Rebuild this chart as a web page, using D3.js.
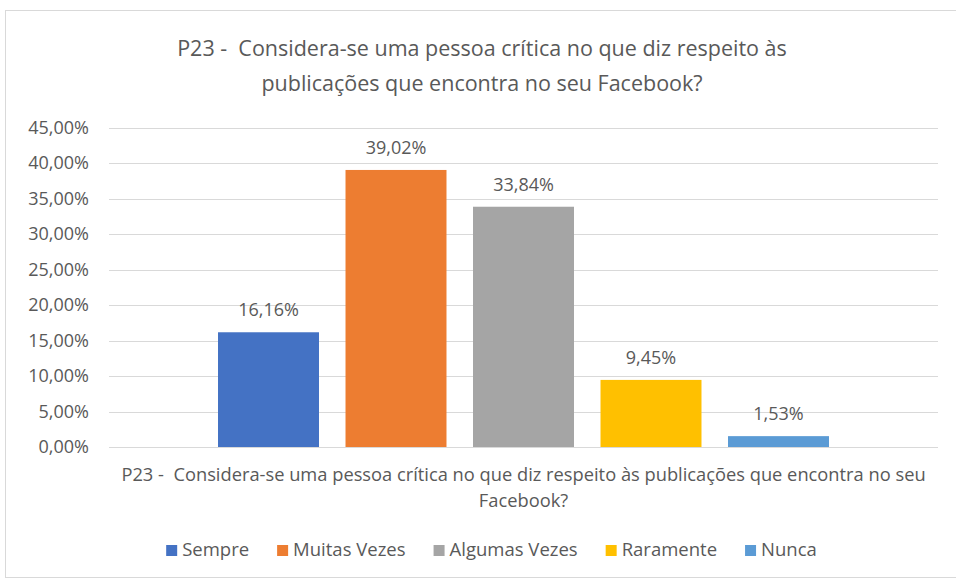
<!DOCTYPE html>
<html>
<head>
<meta charset="utf-8">
<script src="https://cdn.jsdelivr.net/npm/d3@7"></script>
<style>
  body { margin: 0; background: #fff; }
  text { font-family: "Open Sans", sans-serif; fill: #595959; white-space: pre; }
</style>
</head>
<body>
<div id="chart"></div>
<script>
// data
const series = ['Sempre', 'Muitas Vezes', 'Algumas Vezes', 'Raramente', 'Nunca']
const values = [16.16, 39.02, 33.84, 9.45, 1.53]
const colors = ['#4472C4', '#ED7D31', '#A5A5A5', '#FFC000', '#5B9BD5']
const yTicks = [0, 5, 10, 15, 20, 25, 30, 35, 40, 45]
const titleLines = ['P23 -  Considera-se uma pessoa crítica no que diz respeito às', 'publicações que encontra no seu Facebook?']
const axisTitleLines = ['P23 -  Considera-se uma pessoa crítica no que diz respeito às publicações que encontra no seu', 'Facebook?']

const width = 956
const height = 579
const plot = { left: 109, right: 938, top: 127.5, bottom: 447 }
const labelSize = '18px'

const fmt = v => v.toFixed(2).replace('.', ',') + '%'

const svg = d3.select('#chart')
    .append('svg')
    .attr('width', width)
    .attr('height', height)

// chart border
svg.append('rect')
    .attr('x', 5.5)
    .attr('y', 10.5)
    .attr('width', 960)
    .attr('height', 567)
    .attr('fill', 'none')
    .attr('stroke', '#D9D9D9')

// title
svg.append('g')
    .selectAll('text')
    .data(titleLines)
    .join('text')
    .attr('x', 482)
    .attr('y', (d, i) => 56 + i * 35)
    .attr('text-anchor', 'middle')
    .style('font-size', '21.5px')
    .text(d => d)

// scales
const yScale = d3.scaleLinear()
    .domain([0, 45])
    .range([plot.bottom, plot.top])

const xScale = d3.scaleBand()
    .domain(series)
    .range([plot.left, plot.right])
    .paddingInner(0.208)
    .paddingOuter(0.855)

// grid
svg.append('g')
    .selectAll('line')
    .data(yTicks)
    .join('line')
    .attr('x1', plot.left)
    .attr('x2', plot.right)
    .attr('y1', d => Math.round(yScale(d)) + 0.5)
    .attr('y2', d => Math.round(yScale(d)) + 0.5)
    .attr('stroke', '#D9D9D9')
    .attr('stroke-width', 1)

// y axis labels
const yAxis = d3.axisLeft(yScale)
    .tickValues(yTicks)
    .tickSize(0)
    .tickPadding(20)
    .tickFormat(fmt)

const yAxisGroup = svg.append('g')
    .attr('transform', `translate(${plot.left}, 0)`)
    .call(yAxis)
yAxisGroup.select('.domain').remove()
yAxisGroup.selectAll('text')
    .style('font-size', labelSize)
    .attr('fill', '#595959')
    .style('font-family', '"Open Sans", sans-serif')

// bars
svg.append('g')
    .selectAll('rect')
    .data(values)
    .join('rect')
    .attr('x', (d, i) => xScale(series[i]))
    .attr('y', d => yScale(d))
    .attr('width', xScale.bandwidth())
    .attr('height', d => plot.bottom - yScale(d))
    .attr('fill', (d, i) => colors[i])

// data labels
svg.append('g')
    .selectAll('text')
    .data(values)
    .join('text')
    .attr('x', (d, i) => xScale(series[i]) + xScale.bandwidth() / 2)
    .attr('y', d => yScale(d) - 16)
    .attr('text-anchor', 'middle')
    .style('font-size', labelSize)
    .text(fmt)

// x axis title
svg.append('g')
    .selectAll('text')
    .data(axisTitleLines)
    .join('text')
    .attr('x', (plot.left + plot.right) / 2)
    .attr('y', (d, i) => 481 + i * 26)
    .attr('text-anchor', 'middle')
    .style('font-size', '18.3px')
    .text(d => d)

// legend
const legend = svg.append('g')
const items = legend.selectAll('g')
    .data(series)
    .join('g')
items.append('rect')
    .attr('width', 11)
    .attr('height', 11)
    .attr('y', -11)
    .attr('fill', (d, i) => colors[i])
items.append('text')
    .attr('x', 16)
    .attr('y', 0)
    .style('font-size', '18.5px')
    .text(d => d)

const legendGap = 28
let offset = 0
items.each(function () {
    const w = this.getBBox().width
    d3.select(this).attr('transform', `translate(${offset}, 556)`)
    offset += w + legendGap
})
const legendWidth = offset - legendGap
legend.attr('transform', `translate(${491.5 - legendWidth / 2}, 0)`)
</script>
</body>
</html>
